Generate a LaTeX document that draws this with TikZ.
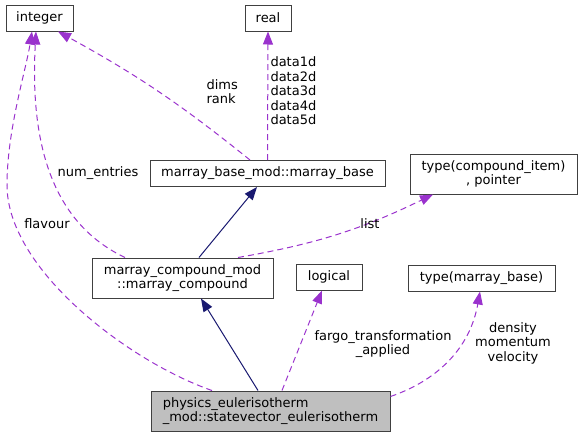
\documentclass[tikz,border=0pt]{standalone}
\usepackage{fontspec}
\setmainfont{DejaVu Sans}
\usetikzlibrary{arrows.meta}
\definecolor{usecolor}{HTML}{9A32CD}
\definecolor{inhcolor}{HTML}{191970}
\definecolor{boxcolor}{HTML}{404040}
\definecolor{curcolor}{HTML}{BFBFBF}

\begin{document}
\begin{tikzpicture}[x=1pt,y=-1pt,line width=1pt,
		font=\fontsize{13}{14.5}\selectfont,
		cls/.style={draw=boxcolor,fill=white,inner sep=0pt,align=center,minimum height=26pt},
		cls2/.style={cls,minimum height=40pt},
		usage/.style={draw=usecolor,dash pattern=on 6pt off 4pt,-{Triangle[length=13pt,width=10pt]}},
		inherit/.style={draw=inhcolor,-{Triangle[length=13pt,width=10pt]}},
		lbl/.style={inner sep=0pt,align=center}]
			\useasboundingbox (0,0) rectangle (582,437);
			\node[cls, minimum width=67pt]               (integer)  at (39.5,18)    {integer};
			\node[cls, minimum width=46pt]               (real)     at (268,18)     {real};
			\node[cls, minimum width=235pt]              (base)     at (267.5,173.5) {marray\_base\_mod::marray\_base};
			\node[cls2, minimum width=167pt]             (item)     at (493.5,174)  {type(compound\_item)\\, pointer};
			\node[cls2, minimum width=181pt]             (compound) at (182.5,278)  {marray\_compound\_mod\\::marray\_compound};
			\node[cls, minimum width=66pt]               (logical)  at (329,277)    {logical};
			\node[cls, minimum width=147pt]              (mbase)    at (481.5,278)  {type(marray\_base)};
			\node[cls2, minimum width=239pt, fill=curcolor, align=left] (physics) at (270.5,411) {physics\_eulerisotherm\\\_mod::statevector\_eulerisotherm};
			\draw[inherit] ([xshift=16.5pt]compound.north) -- ([xshift=-10.5pt]base.south);
			\draw[inherit] ([xshift=-12.5pt]physics.north) -- ([xshift=18.5pt]compound.south);
			\draw[usage] ([xshift=-58.5pt]physics.north) .. controls (130,362) and (7,270) .. (7,185) .. controls (7,130) and (26,70) .. ([xshift=-7.5pt]integer.south);
			\draw[usage] ([xshift=-57.5pt]compound.north) .. controls (50,222) and (30,140) .. ([xshift=-3.5pt]integer.south);
			\draw[usage] ([xshift=-17.5pt]base.north) to[bend right=5] ([xshift=18.5pt]integer.south);
			\draw[usage] (base.north) -- (real.south);
			\draw[usage] ([xshift=55.5pt]compound.north) to[bend right=8] ([xshift=-60.5pt]item.south);
			\draw[usage] ([xshift=11.5pt]physics.north) -- ([xshift=-7pt]logical.south);
			\draw[usage] ([yshift=-6pt]physics.north east) to[out=19,in=-100] ([xshift=-1.5pt]mbase.south);
			\node[lbl]               (flavourlbl) at (47,224)   {flavour};
			\node[lbl]               (entrieslbl) at (98,173)   {num\_entries};
			\node[lbl,anchor=west,align=left] (dimslbl) at (206,91.5) {dims\\rank};
			\node[lbl,anchor=west,align=left] (datalbl) at (270,91) {data1d\\data2d\\data3d\\data4d\\data5d};
			\node[lbl]               (listlbl)    at (370,224)  {list};
			\node[lbl]               (fargolbl)   at (383,344)  {fargo\_transformation\\\_applied};
			\node[lbl]               (denslbl)    at (513,343)  {density\\momentum\\velocity};
		\end{tikzpicture}
\end{document}
